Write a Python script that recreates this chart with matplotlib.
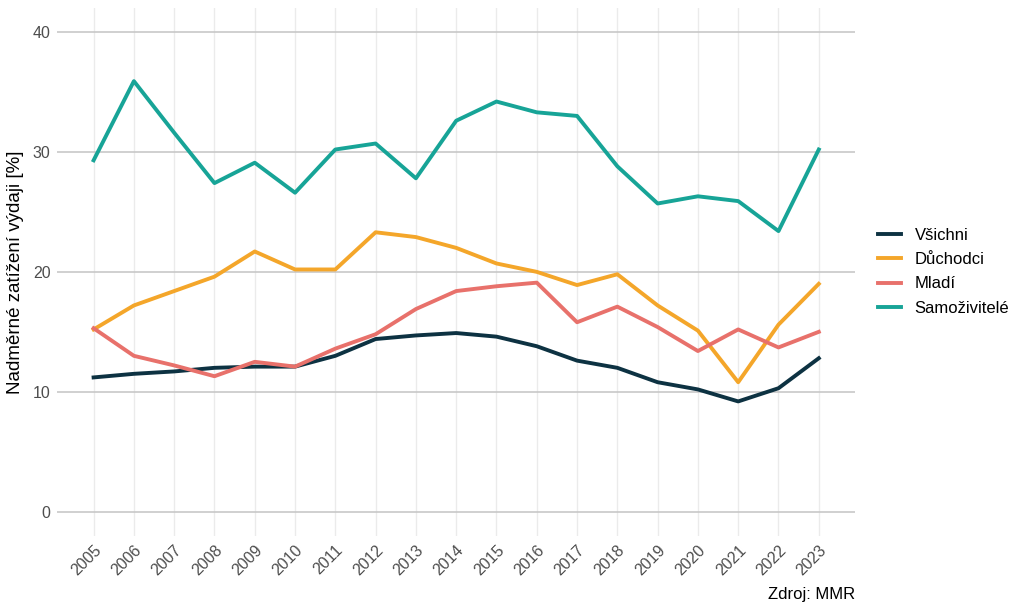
import matplotlib.pyplot as plt

plt.rcParams['font.family'] = ['Liberation Sans', 'DejaVu Sans']

roky = list(range(2005, 2024))
vsichni = [11.2, 11.5, 11.7, 12.0, 12.1, 12.1, 13.0, 14.4, 14.7, 14.9, 14.6, 13.8, 12.6, 12.0, 10.8, 10.2, 9.2, 10.3, 12.8]
duchodci = [15.2, 17.2, 18.4, 19.6, 21.7, 20.2, 20.2, 23.3, 22.9, 22.0, 20.7, 20.0, 18.9, 19.8, 17.2, 15.1, 10.8, 15.6, 19.0]
mladi = [15.3, 13.0, 12.2, 11.3, 12.5, 12.1, 13.6, 14.8, 16.9, 18.4, 18.8, 19.1, 15.8, 17.1, 15.4, 13.4, 15.2, 13.7, 15.0]
samozivitele = [29.3, 35.9, 31.6, 27.4, 29.1, 26.6, 30.2, 30.7, 27.8, 32.6, 34.2, 33.3, 33.0, 28.8, 25.7, 26.3, 25.9, 23.4, 30.2]

fig = plt.figure(figsize=(10.24, 6.13), dpi=100)
ax = fig.add_axes([0.056, 0.126, 0.779, 0.861])

ax.plot(roky, vsichni, color='#0d3242', lw=2.8, label='Všichni')
ax.plot(roky, duchodci, color='#f4a62a', lw=2.8, label='Důchodci')
ax.plot(roky, mladi, color='#e8716b', lw=2.8, label='Mladí')
ax.plot(roky, samozivitele, color='#17a497', lw=2.8, label='Samoživitelé')

ax.set_xlim(2004.1, 2023.9)
ax.set_ylim(-2, 42)
ax.set_xticks(roky)
ax.set_xticklabels([str(r) for r in roky], rotation=45, ha='right', rotation_mode='anchor')
ax.set_yticks([0, 10, 20, 30, 40])

ax.grid(axis='x', color='#ebebeb', lw=1)
ax.grid(axis='y', color='#c8c8c8', lw=1.2)
ax.set_axisbelow(True)
for s in ax.spines.values():
    s.set_visible(False)
ax.tick_params(length=0, labelsize=11.5, colors='#4d4d4d', pad=5)

ax.set_ylabel('Nadměrné zatížení výdaji [%]', fontsize=13.5, color='black', labelpad=6)

ax.legend(loc='center left', bbox_to_anchor=(1.01, 0.5), frameon=False,
          fontsize=12, handlelength=1.4, labelspacing=0.55)

fig.text(0.835, 0.018, 'Zdroj: MMR', ha='right', va='bottom', fontsize=12)

fig.savefig('out.png', dpi=100)
